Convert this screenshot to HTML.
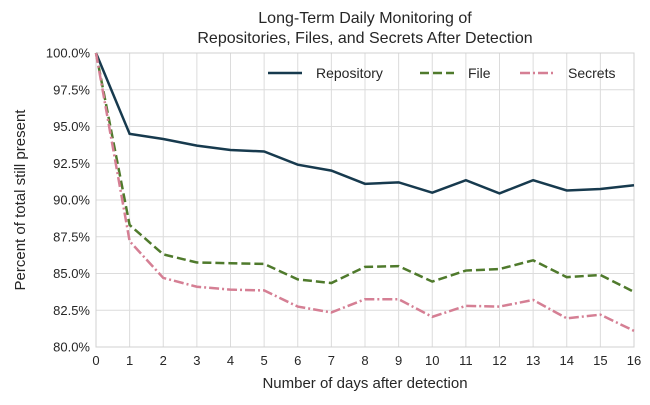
<!DOCTYPE html>
<html><head><meta charset="utf-8"><style>
body{margin:0;background:#fff;font-family:"Liberation Sans",Arial,sans-serif;}
svg text{font-family:"Liberation Sans",Arial,sans-serif;fill:#262626;}
</style></head><body>
<svg id="chart" width="650" height="400" xmlns="http://www.w3.org/2000/svg"></svg>
<script>
const days=[0,1,2,3,4,5,6,7,8,9,10,11,12,13,14,15,16];
const repository=[100,94.5,94.15,93.7,93.4,93.3,92.4,92.0,91.1,91.2,90.5,91.35,90.45,91.35,90.65,90.75,91.0];
const file=[100,88.3,86.3,85.75,85.7,85.65,84.6,84.35,85.45,85.5,84.45,85.2,85.3,85.9,84.75,84.9,83.75];
const secrets=[100,87.2,84.7,84.1,83.9,83.85,82.75,82.35,83.25,83.25,82.05,82.8,82.75,83.2,81.95,82.2,81.1];
const yTicks=[80,82.5,85,87.5,90,92.5,95,97.5,100];
const L=96,R=634,T=53,B=347;
const xs=d=>L+(d-0)/(16-0)*(R-L);
const ys=v=>B-(v-80)/(100-80)*(B-T);
const svg=document.getElementById('chart');
const NS='http://www.w3.org/2000/svg';
function mk(tag,attrs,parent){const e=document.createElementNS(NS,tag);for(const k in attrs)e.setAttribute(k,attrs[k]);(parent||svg).appendChild(e);return e;}
const grid=mk('g',{});


days.forEach(d=>{mk('line',{x1:xs(d),x2:xs(d),y1:T,y2:B,stroke:'#dcdcdc','stroke-width':1},grid);
const t=mk('text',{x:xs(d),y:B+18,'text-anchor':'middle','font-size':13});t.textContent=d;

});
yTicks.forEach(v=>{mk('line',{x1:L,x2:R,y1:ys(v),y2:ys(v),stroke:'#dcdcdc','stroke-width':1},grid);
const t=mk('text',{x:L-6,y:ys(v)+4.5,'text-anchor':'end','font-size':13});t.textContent=v.toFixed(1)+'%';

});
const frame=mk('rect',{x:L,y:T,width:R-L,height:B-T,fill:'none',stroke:'#d0d0d0','stroke-width':1});


function series(vals,color,dash,name){const p=mk('polyline',{points:vals.map((v,i)=>xs(days[i])+','+ys(v)).join(' '),fill:'none',stroke:color,'stroke-width':2.5,'stroke-dasharray':dash});

}
series(repository,'#173a4e','none','repository-line');
series(file,'#4f7a2c','9 4','file-line');
series(secrets,'#d57f94','10 3 2 3','secrets-line');
const leg=mk('g',{});


[['Repository','#173a4e','none',268],['File','#4f7a2c','9 4',420],['Secrets','#d57f94','10 3 2 3',520]].forEach(([n,c,d,x])=>{
mk('line',{x1:x,x2:x+34,y1:73,y2:73,stroke:c,'stroke-width':2.5,'stroke-dasharray':d},leg);
const t=mk('text',{x:x+48,y:78,'font-size':14});t.textContent=n;

});
const t1=mk('text',{x:365,y:23,'text-anchor':'middle','font-size':16});t1.textContent='Long-Term Daily Monitoring of';


const t2=mk('text',{x:365,y:43,'text-anchor':'middle','font-size':16});t2.textContent='Repositories, Files, and Secrets After Detection';


const xt=mk('text',{x:365,y:388,'text-anchor':'middle','font-size':15});xt.textContent='Number of days after detection';


const yt=mk('text',{x:0,y:0,'text-anchor':'middle','font-size':15,transform:'translate(25,200) rotate(-90)'});yt.textContent='Percent of total still present';


</script>
</body></html>
